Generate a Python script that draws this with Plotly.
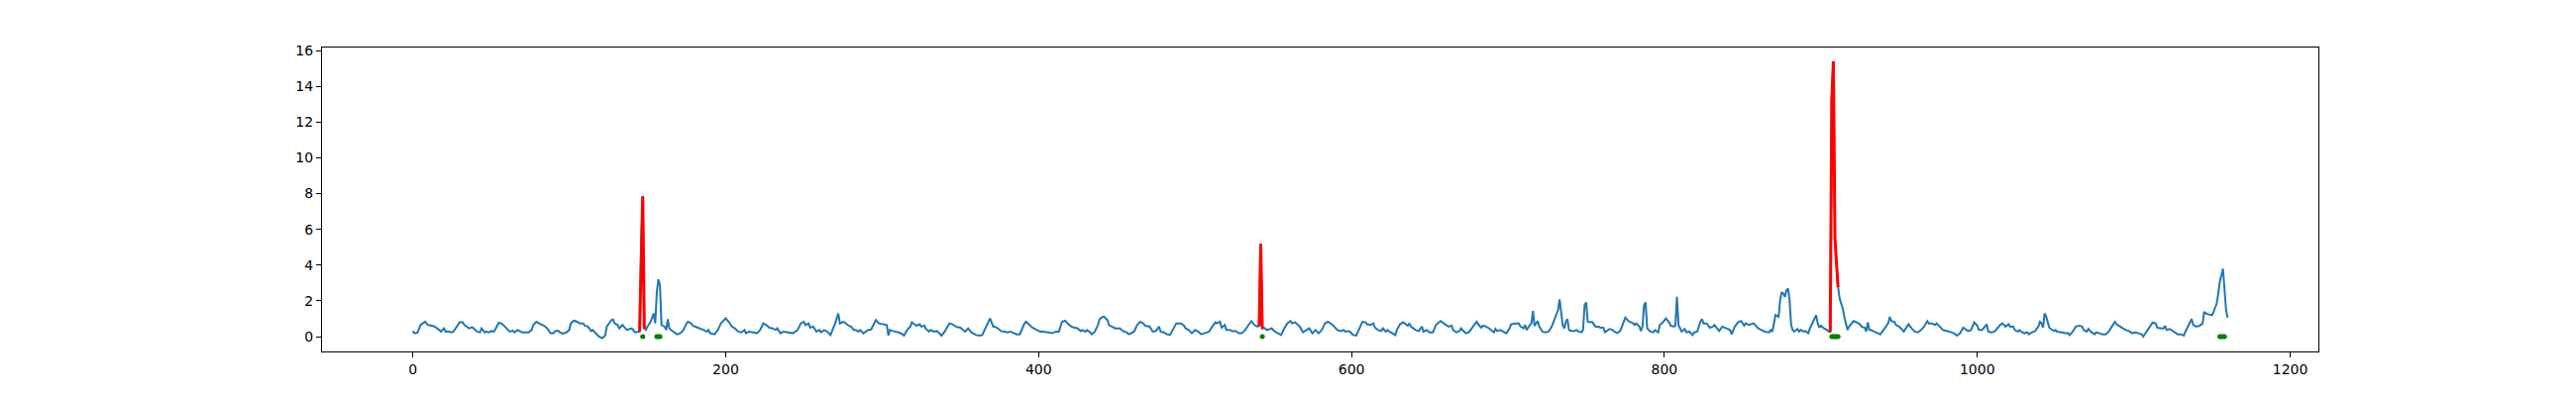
import plotly.graph_objects as go

# blue series (index, value)
t_blue = [0, 1, 2, 3, 5, 7, 8, 9, 10, 12, 14, 17, 18, 20, 21, 23, 25, 26, 28, 30,
          32, 33, 36, 38, 39, 41, 43, 44, 46, 47, 49, 50, 52, 54, 55, 57, 59, 61, 62, 64,
          65, 67, 69, 70, 73, 74, 76, 77, 79, 81, 82, 84, 86, 88, 90, 91, 93, 94, 96, 98,
          100, 101, 103, 104, 107, 109, 110, 112, 114, 115, 117, 119, 121, 123, 124, 127, 128, 129, 131, 132,
          134, 135, 137, 138, 140, 142,
          149, 150, 152, 154, 155, 156, 157, 158, 159, 161, 162, 163, 164, 167, 169, 171, 173, 175, 176, 178,
          179, 181, 184, 186, 188, 189, 190, 193, 195, 197, 200, 202, 204, 206, 208, 210, 212, 213, 215, 217,
          220, 222, 224, 226, 228, 230, 232, 233, 235, 237, 239, 241, 243, 246, 248, 250, 251, 253, 254, 256,
          258, 260, 261, 263, 265, 267, 268, 270, 272, 273, 275, 276, 278, 280, 282, 283, 285, 286, 288, 289,
          291, 293, 295, 296, 298, 300, 303, 304, 305, 307, 309, 311, 313, 314, 316, 318, 319, 320, 322, 324,
          325, 327, 328, 330, 331, 333, 335, 336, 338, 340, 341, 343, 345, 347, 350, 352, 353, 355, 356, 357,
          360, 362, 364, 366, 368, 369, 371, 372, 374, 376, 378, 380, 382, 384, 386, 388, 389, 391, 392, 394,
          396, 399, 401, 403, 405, 407, 409, 411, 413, 415, 417, 419, 421, 423, 425, 427, 428, 430, 431, 433,
          434, 436, 438, 439, 441, 442, 444, 445, 447, 449, 452, 454, 456, 458, 461, 463, 465, 467, 468, 471,
          473, 475, 477, 478, 480, 482, 484, 486, 488, 491, 493, 494, 496, 498, 500, 502, 504, 506, 509, 511,
          513, 514, 516, 517, 519, 520, 522, 524, 526, 528, 530, 532, 534, 536, 538, 540,
          544, 546, 549, 551, 553, 555, 557, 559, 561, 562, 564, 567, 569, 571, 573, 575, 577, 579, 581, 583,
          585, 588, 590, 591, 593, 595, 596, 598, 599, 601, 603, 604, 606, 607, 609, 610, 612, 614, 615, 617,
          619, 620, 622, 623, 625, 626, 628, 629, 631, 633, 634, 636, 637, 638, 641, 643, 645, 646, 648, 650,
          652, 654, 655, 657, 659, 660, 662, 664, 665, 667, 669, 670, 672, 673, 675, 678, 680, 681, 683, 684,
          686, 688, 689, 691, 692, 693, 695, 697, 699, 701, 702, 705, 707, 708, 710, 711, 712, 714, 715, 716,
          717, 719, 720, 722, 724, 726, 728, 729, 731, 732, 733, 734, 735, 736, 737, 738, 739, 740, 742, 744,
          745, 747, 748, 749, 750, 751, 753, 754, 756, 758, 759, 761, 762, 763, 765, 767, 768, 770, 772, 774,
          775, 777, 778, 780, 781, 782, 784, 785, 786, 787, 788, 789, 791, 793, 794, 796, 797, 799, 801, 803,
          804, 806, 807, 808, 809, 811, 813, 814, 816, 818, 819, 821, 823, 824, 825, 827, 829, 831, 832, 834,
          835, 837, 839, 841, 842, 843, 845, 847, 848, 849, 851, 852, 854, 855, 857, 859, 860, 862, 864, 867,
          868, 869, 870, 871, 873, 874, 875, 876, 877, 878, 879, 880, 881, 882, 883, 885, 886, 887, 889, 890,
          892, 893, 895, 897, 898, 899, 900, 902, 904, 905,
          912, 913, 914, 915, 916, 917, 918, 920, 921, 923, 925, 926, 928, 929, 930, 931, 932, 934, 936, 938,
          940, 943, 944, 945, 947, 948, 950, 952, 953, 955, 956, 958, 960, 962, 964, 966, 968, 969, 971, 973,
          974, 976, 978, 981, 983, 985, 987, 989, 991, 993, 994, 996, 998, 1000, 1001, 1003, 1004, 1006, 1007, 1009,
          1011, 1013, 1015, 1016, 1018, 1020, 1021, 1023, 1024, 1026, 1027, 1028, 1030, 1032, 1033, 1035, 1037, 1038, 1039, 1040,
          1041, 1042, 1043, 1044, 1046, 1047, 1049, 1050, 1051, 1054, 1056, 1058, 1059, 1061, 1063, 1065, 1067, 1068, 1070, 1071,
          1073, 1075, 1076, 1078, 1080, 1082, 1084, 1086, 1088, 1089, 1091, 1093, 1095, 1097, 1099, 1101, 1103, 1105, 1106, 1108,
          1111, 1112, 1114, 1115, 1118, 1119, 1120, 1121, 1123, 1124, 1126, 1128, 1130, 1132, 1133, 1135, 1137, 1138, 1140, 1142,
          1144, 1145, 1146, 1148, 1150, 1151, 1153, 1154, 1155, 1157, 1158, 1159, 1160]
v_blue = [0.31, 0.19, 0.19, 0.22, 0.65, 0.78, 0.83, 0.70, 0.65, 0.61, 0.56, 0.37, 0.28, 0.46, 0.28, 0.28, 0.24, 0.28, 0.56, 0.80,
          0.80, 0.65, 0.46, 0.52, 0.46, 0.28, 0.24, 0.46, 0.24, 0.28, 0.24, 0.31, 0.28, 0.65, 0.78, 0.72, 0.56, 0.37, 0.28, 0.33,
          0.24, 0.37, 0.28, 0.24, 0.24, 0.24, 0.37, 0.65, 0.83, 0.72, 0.69, 0.61, 0.46, 0.19, 0.19, 0.31, 0.33, 0.24, 0.17, 0.22,
          0.37, 0.74, 0.89, 0.87, 0.74, 0.74, 0.61, 0.56, 0.31, 0.37, 0.19, 0.00, -0.09, 0.06, 0.56, 0.93, 0.96, 0.74, 0.65, 0.46,
          0.65, 0.56, 0.37, 0.41, 0.46, 0.24,
          0.37, 0.56, 0.83, 1.30, 0.74, 2.50, 3.20, 2.90, 0.65, 0.56, 0.37, 0.98, 0.46, 0.24, 0.13, 0.19, 0.37, 0.74, 0.83, 0.74,
          0.61, 0.54, 0.46, 0.37, 0.28, 0.37, 0.19, 0.13, 0.37, 0.74, 1.02, 0.83, 0.56, 0.46, 0.28, 0.24, 0.37, 0.19, 0.28, 0.24,
          0.19, 0.37, 0.74, 0.65, 0.50, 0.46, 0.37, 0.46, 0.19, 0.28, 0.24, 0.24, 0.19, 0.37, 0.74, 0.83, 0.65, 0.74, 0.50, 0.56,
          0.28, 0.37, 0.24, 0.37, 0.28, 0.09, 0.28, 0.74, 1.30, 0.74, 0.83, 0.80, 0.65, 0.56, 0.37, 0.37, 0.28, 0.37, 0.19, 0.24,
          0.37, 0.40, 0.74, 0.93, 0.74, 0.69, 0.65, 0.06, 0.37, 0.31, 0.28, 0.22, 0.13, 0.06, 0.37, 0.56, 0.80, 0.74, 0.61, 0.69,
          0.56, 0.61, 0.43, 0.28, 0.37, 0.28, 0.31, 0.24, 0.06, 0.28, 0.46, 0.74, 0.69, 0.56, 0.50, 0.37, 0.28, 0.46, 0.31, 0.24,
          0.09, 0.06, 0.09, 0.46, 0.80, 1.02, 0.56, 0.56, 0.46, 0.31, 0.28, 0.24, 0.28, 0.19, 0.13, 0.13, 0.37, 0.74, 0.83, 0.69,
          0.50, 0.37, 0.28, 0.28, 0.24, 0.19, 0.19, 0.28, 0.28, 0.83, 0.89, 0.69, 0.56, 0.50, 0.46, 0.31, 0.37, 0.28, 0.37, 0.24,
          0.13, 0.28, 0.65, 0.98, 1.11, 1.11, 0.93, 0.65, 0.56, 0.46, 0.46, 0.31, 0.24, 0.13, 0.28, 0.65, 0.83, 0.74, 0.61, 0.56,
          0.28, 0.31, 0.56, 0.28, 0.24, 0.13, 0.09, 0.46, 0.74, 0.74, 0.61, 0.46, 0.37, 0.19, 0.37, 0.28, 0.13, 0.19, 0.28, 0.56,
          0.80, 0.74, 0.83, 0.50, 0.65, 0.37, 0.37, 0.31, 0.31, 0.19, 0.19, 0.37, 0.65, 0.87, 0.65, 0.56,
          0.50, 0.37, 0.46, 0.28, 0.19, 0.09, 0.46, 0.74, 0.87, 0.74, 0.80, 0.56, 0.24, 0.37, 0.46, 0.19, 0.37, 0.19, 0.37, 0.74,
          0.83, 0.65, 0.46, 0.37, 0.31, 0.37, 0.28, 0.31, 0.28, 0.09, 0.06, 0.28, 0.69, 0.83, 0.80, 0.69, 0.65, 0.74, 0.50, 0.37,
          0.31, 0.46, 0.28, 0.37, 0.24, 0.19, 0.09, 0.37, 0.69, 0.80, 0.74, 0.61, 0.74, 0.56, 0.37, 0.31, 0.56, 0.28, 0.37, 0.24,
          0.24, 0.65, 0.74, 0.87, 0.74, 0.69, 0.56, 0.61, 0.37, 0.24, 0.31, 0.46, 0.28, 0.19, 0.24, 0.56, 0.83, 0.69, 0.50, 0.61,
          0.56, 0.46, 0.37, 0.24, 0.43, 0.31, 0.37, 0.28, 0.19, 0.46, 0.69, 0.74, 0.74, 0.56, 0.46, 0.65, 0.37, 0.65, 0.74, 1.43,
          0.60, 0.87, 0.56, 0.28, 0.24, 0.28, 0.56, 0.80, 1.30, 1.48, 2.09, 1.20, 0.65, 0.46, 0.83, 0.98, 0.37, 0.33, 0.31, 0.37,
          0.28, 0.24, 0.37, 1.76, 1.91, 0.83, 0.83, 0.80, 0.56, 0.56, 0.50, 0.50, 0.24, 0.31, 0.43, 0.37, 0.28, 0.19, 0.37, 0.83,
          1.06, 0.87, 0.83, 0.74, 0.65, 0.74, 0.56, 0.31, 0.56, 1.76, 1.91, 0.46, 0.28, 0.24, 0.37, 0.24, 0.65, 0.80, 1.02, 0.80,
          0.61, 0.56, 0.61, 2.22, 0.65, 0.28, 0.43, 0.24, 0.28, 0.09, 0.24, 0.28, 0.83, 0.98, 0.74, 0.74, 0.50, 0.56, 0.65, 0.46,
          0.31, 0.56, 0.50, 0.43, 0.37, 0.13, 0.56, 0.80, 0.83, 0.87, 0.61, 0.74, 0.65, 0.69, 0.74, 0.56, 0.46, 0.37, 0.28, 0.24,
          0.37, 0.28, 0.65, 1.20, 1.11, 2.04, 2.50, 2.41, 2.22, 2.59, 2.69, 2.04, 0.65, 0.37, 0.28, 0.43, 0.28, 0.37, 0.28, 0.31,
          0.19, 0.46, 0.83, 1.20, 0.74, 0.50, 0.61, 0.46, 0.37, 0.28,
          2.13, 1.85, 1.57, 1.11, 0.65, 0.37, 0.56, 0.74, 0.87, 0.80, 0.69, 0.56, 0.50, 0.28, 0.80, 0.37, 0.37, 0.28, 0.19, 0.13,
          0.37, 0.74, 1.11, 0.87, 0.83, 0.65, 0.56, 0.37, 0.28, 0.56, 0.69, 0.46, 0.28, 0.24, 0.37, 0.56, 0.87, 0.74, 0.74, 0.65,
          0.74, 0.56, 0.37, 0.31, 0.24, 0.19, 0.06, 0.19, 0.50, 0.37, 0.31, 0.37, 0.80, 0.61, 0.37, 0.37, 0.46, 0.69, 0.28, 0.24,
          0.28, 0.50, 0.69, 0.74, 0.56, 0.69, 0.56, 0.56, 0.37, 0.28, 0.37, 0.28, 0.19, 0.24, 0.13, 0.24, 0.31, 0.45, 0.56, 0.83,
          0.74, 0.50, 1.30, 1.11, 0.50, 0.43, 0.31, 0.37, 0.28, 0.24, 0.19, 0.19, 0.09, 0.28, 0.56, 0.61, 0.56, 0.37, 0.28, 0.43,
          0.24, 0.13, 0.24, 0.19, 0.13, 0.13, 0.28, 0.56, 0.83, 0.69, 0.56, 0.46, 0.37, 0.31, 0.19, 0.24, 0.19, 0.13, 0.00, 0.28,
          0.65, 0.78, 0.74, 0.50, 0.46, 0.46, 0.61, 0.37, 0.43, 0.37, 0.24, 0.13, 0.13, 0.06, 0.28, 0.65, 0.98, 0.65, 0.56, 0.61,
          0.74, 1.39, 1.30, 1.24, 1.20, 1.39, 1.85, 2.41, 3.06, 3.80, 2.60, 1.48, 1.06]

# anomaly windows drawn in red
red1_x = [145, 146, 147, 148]
red1_y = [0.28, 5.1, 7.85, 0.45]
red2_x = [541, 542, 543]
red2_y = [0.6, 5.2, 0.45]
red3_x = [906, 907, 908, 909, 910, 911]
red3_y = [0.28, 13.3, 15.4, 5.5, 4.1, 2.77]

# green markers sitting on zero
green_x = [147, 156, 157, 158, 543, 907, 908, 909, 910, 911, 1155, 1156, 1157, 1158]
green_y = [0] * len(green_x)

# full series = blue points + the anomaly points, in order
pts = sorted(zip(t_blue + red1_x + red2_x + red3_x, v_blue + red1_y + red2_y + red3_y))
series_x = [p[0] for p in pts]
series_y = [p[1] for p in pts]

fig = go.Figure()
fig.add_trace(go.Scatter(x=series_x, y=series_y, mode='lines',
                         line=dict(color='#1f77b4', width=2)))
for rx, ry in [(red1_x, red1_y), (red2_x, red2_y), (red3_x, red3_y)]:
    fig.add_trace(go.Scatter(x=rx, y=ry, mode='lines', line=dict(color='red', width=3)))
fig.add_trace(go.Scatter(x=green_x, y=green_y, mode='markers',
                         marker=dict(color='green', size=5)))

axis_style = dict(showline=True, mirror=True, linecolor='black', linewidth=1,
                  ticks='outside', ticklen=5, tickwidth=1, tickcolor='black',
                  showgrid=False, zeroline=False,
                  tickfont=dict(family='DejaVu Sans', size=14, color='black'))

# page body has an 8px margin, so the figure is 8px smaller and margins shifted
fig.update_layout(
    width=2592, height=392,
    showlegend=False,
    plot_bgcolor='white', paper_bgcolor='white',
    margin=dict(l=317, r=260, t=40, b=45),
    xaxis=dict(range=[-58, 1218], tickvals=[0, 200, 400, 600, 800, 1000, 1200], **axis_style),
    yaxis=dict(range=[-0.83, 16.17], tickvals=[0, 2, 4, 6, 8, 10, 12, 14, 16], **axis_style),
)

fig.write_html("out.html")
